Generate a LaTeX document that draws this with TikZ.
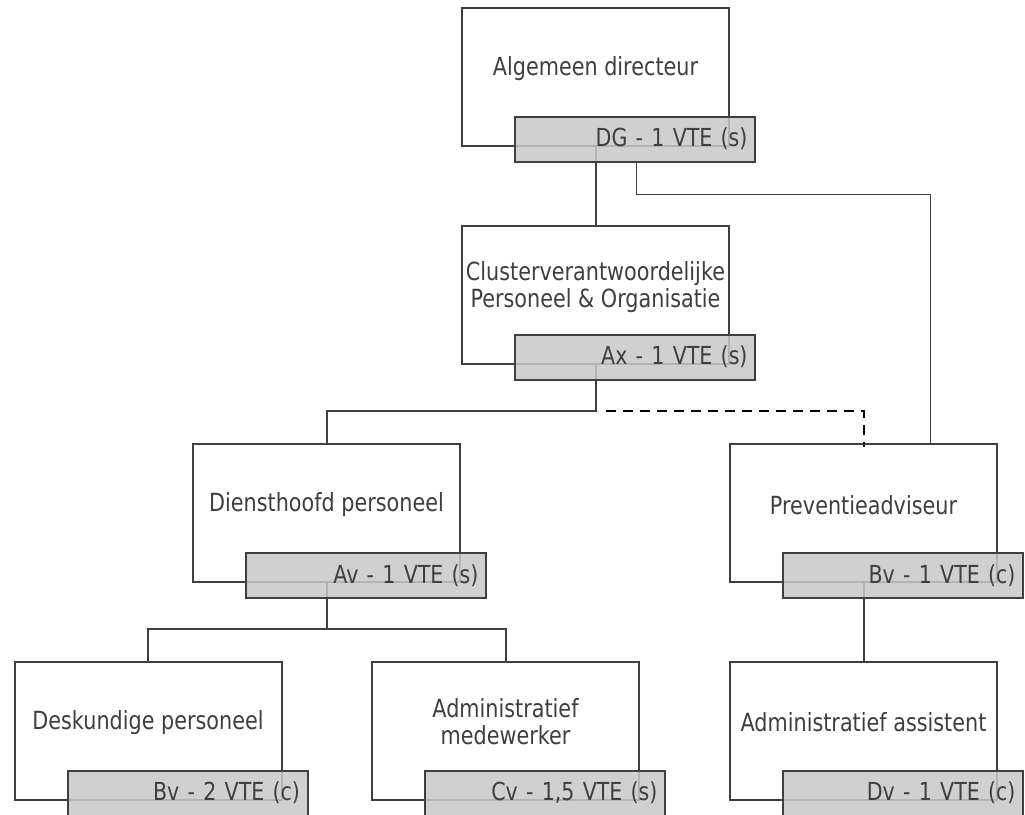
\documentclass[tikz,border=0pt]{standalone}
\usepackage{fontspec}
\setmainfont{DejaVu Sans}[FakeStretch=0.83]
\usetikzlibrary{calc}
\definecolor{ink}{RGB}{64,62,62}
\definecolor{tagfill}{RGB}{200,200,200}
\begin{document}
\begin{tikzpicture}[x=1pt,y=-1pt,
  rolebox/.style={draw=ink, line width=2pt, fill=white, minimum width=267pt,
    minimum height=138pt, inner sep=0pt},
  roletext/.style={text=ink, font=\fontsize{25}{27}\selectfont, align=center},
  tagbox/.style={draw=ink, line width=2pt, fill=tagfill, fill opacity=0.85,
    text opacity=1, text=ink, font=\fontsize{24.8}{27}\selectfont,
    text width=225pt, align=right, inner xsep=7.5pt, inner ysep=0pt,
    minimum height=45pt},
  link/.style={draw=ink, line width=2pt},
  thinlink/.style={draw=ink, line width=1pt},
  dashlink/.style={draw=black, line width=2pt, dash pattern=on 10pt off 7pt}]
\useasboundingbox (0,0) rectangle (1025,814);

% role boxes
\node[rolebox] (dg) at (595.5,76.5) {};
\node[rolebox] (cl) at (595.5,294.5) {};
\node[rolebox] (dh) at (326.5,513) {};
\node[rolebox] (pa) at (863.5,513) {};
\node[rolebox] (dp) at (148,730.5) {};
\node[rolebox] (am) at (505.5,730.5) {};
\node[rolebox] (aa) at (863.5,730.5) {};

% role titles
\node[roletext] (dgtxt) at ([yshift=8pt]dg.center) {Algemeen directeur};
\node[roletext] (cltxt) at ([yshift=7pt]cl.center) {Clusterverantwoordelijke\\Personeel \& Organisatie};
\node[roletext] (dhtxt) at ([yshift=8pt]dh.center) {Diensthoofd personeel};
\node[roletext] (patxt) at ([yshift=8pt]pa.center) {Preventieadviseur};
\node[roletext] (dptxt) at ([yshift=8pt]dp.center) {Deskundige personeel};
\node[roletext] (amtxt) at ([yshift=9pt]am.center) {Administratief\\medewerker};
\node[roletext] (aatxt) at ([yshift=8pt]aa.center) {Administratief assistent};

% junctions
\coordinate (j1) at ($(cl.south)+(0,46)$);
\coordinate (j2) at ($(dh.south)+(0,46)$);
\coordinate (pa3) at ($(pa.north west)!0.75!(pa.north east)$);

% connectors
\draw[link] (dg.south) -- (cl.north);
\draw[link] (cl.south) -- (j1) -| (dh.north);
\draw[dashlink] ([xshift=10pt]j1) -| ([yshift=-4pt]pa.north);
\draw[link] (dh.south) -- (j2) -| (dp.north);
\draw[link] (j2) -| (am.north);
\draw[link] (pa.south) -- (aa.north);

% grade tags
\node[tagbox] (dgt) at ([xshift=39.5pt,yshift=7.5pt]dg.south) {DG - 1 VTE (s)};
\node[tagbox] (clt) at ([xshift=39.5pt,yshift=7.5pt]cl.south) {Ax - 1 VTE (s)};
\node[tagbox] (dht) at ([xshift=39.5pt,yshift=7.5pt]dh.south) {Av - 1 VTE (s)};
\node[tagbox] (pat) at ([xshift=39.5pt,yshift=7.5pt]pa.south) {Bv - 1 VTE (c)};
\node[tagbox] (dpt) at ([xshift=39.5pt,yshift=7.5pt]dp.south) {Bv - 2 VTE (c)};
\node[tagbox] (amt) at ([xshift=39.5pt,yshift=7.5pt]am.south) {Cv - 1,5 VTE (s)};
\node[tagbox] (aat) at ([xshift=39.5pt,yshift=7.5pt]aa.south) {Dv - 1 VTE (c)};

% staff line to the prevention adviser
\draw[thinlink] ([xshift=1pt]dgt.south) -- ++(0,32) -| (pa3);
\end{tikzpicture}
\end{document}
